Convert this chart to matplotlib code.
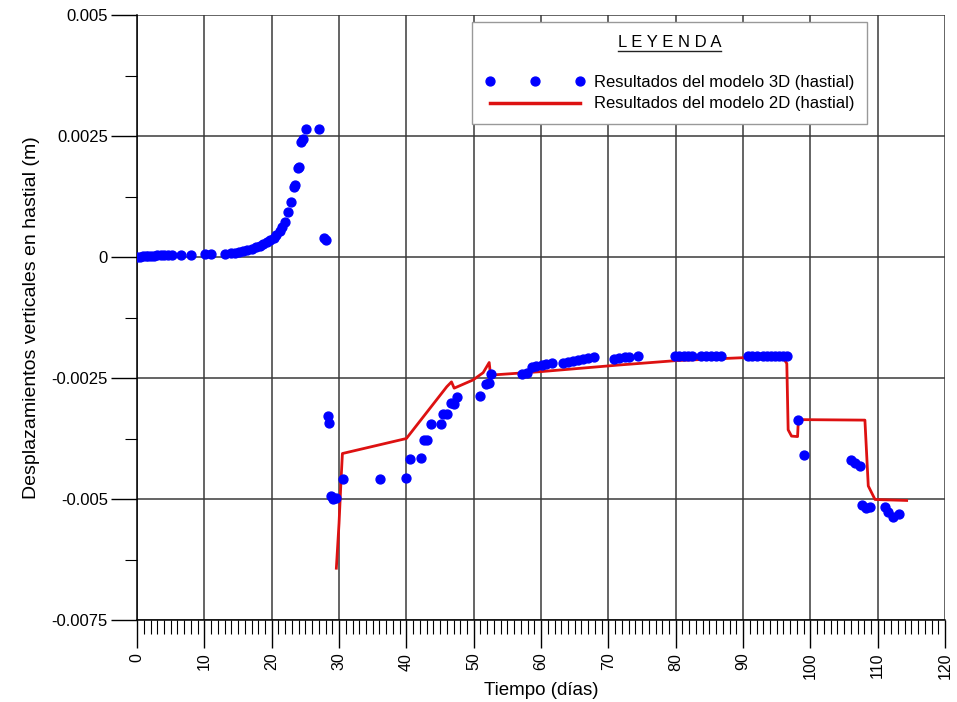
#!/usr/bin/python
# Desplazamientos verticales en hastial: modelo 3D (puntos) vs modelo 2D (linea)

import numpy as np
import matplotlib
matplotlib.use("Agg")
import matplotlib.pyplot as plt
from matplotlib.lines import Line2D
from matplotlib.ticker import MultipleLocator

plt.rcParams['font.family'] = ['Liberation Sans', 'DejaVu Sans']

############################### Datos ###############################
# modelo 3D (hastial) - tiempo en dias
t_3d = [0.0, 0.5, 0.9, 1.3, 1.7, 2.1, 2.5, 3.0, 3.5, 4.0, 4.6, 5.2, 6.5, 8.0, 10.1, 11.0,
        13.1, 14.0, 14.6, 15.2, 15.8, 16.4, 17.0, 17.6, 18.2, 18.7, 19.3, 19.7, 20.3, 20.7,
        21.2, 21.5, 22.0, 22.4, 22.9, 23.3, 23.5, 23.9, 24.1, 24.4, 24.6, 25.1, 27.0,
        27.7, 28.0, 28.3, 28.5, 28.8, 29.1, 29.6, 30.6, 36.1,
        40.0, 40.6, 42.1, 42.6, 43.1, 43.6, 45.1, 45.5, 46.1, 46.6, 47.1, 47.5,
        51.0, 51.8, 52.3, 52.5, 57.1, 57.9, 58.6, 59.3, 60.1, 60.8, 61.6,
        63.3, 64.0, 64.8, 65.5, 66.3, 67.0, 67.8, 70.9, 71.6, 72.4, 73.1, 74.4,
        79.9, 80.5, 81.2, 81.8, 82.4, 83.8, 84.5, 85.3, 86.0, 86.8,
        90.8, 91.4, 92.0, 93.0, 93.6, 94.2, 94.8, 95.4, 96.0, 96.5,
        98.1, 99.1, 106.1, 106.6, 107.3, 107.6, 108.3, 108.8,
        111.1, 111.6, 112.2, 113.2]
# desplazamiento (m)
d_3d = [0.0, 0.00001, 0.00002, 0.00002, 0.00003, 0.00003, 0.00003, 0.00004, 0.00004, 0.00004, 0.00005, 0.00005, 0.00005, 0.00005, 0.00006, 0.00006,
        0.00007, 0.00008, 0.00009, 0.00011, 0.00013, 0.00015, 0.00017, 0.00020, 0.00023, 0.00026, 0.00030, 0.00035, 0.00040, 0.00046,
        0.00054, 0.00062, 0.00073, 0.00092, 0.00114, 0.00145, 0.00148, 0.00183, 0.00186, 0.00238, 0.00243, 0.00264, 0.00264,
        0.00040, 0.00035, -0.00328, -0.00342, -0.00493, -0.00499, -0.00497, -0.00459, -0.00458,
        -0.00456, -0.00417, -0.00416, -0.00378, -0.00378, -0.00346, -0.00346, -0.00325, -0.00324, -0.00302, -0.00304, -0.00290,
        -0.00287, -0.00262, -0.00260, -0.00242, -0.00242, -0.00239, -0.00228, -0.00226, -0.00224, -0.00222, -0.00220,
        -0.00218, -0.00216, -0.00214, -0.00212, -0.00210, -0.00208, -0.00207, -0.00210, -0.00208, -0.00207, -0.00206, -0.00205,
        -0.00205, -0.00205, -0.00205, -0.00205, -0.00205, -0.00205, -0.00205, -0.00205, -0.00205, -0.00205,
        -0.00205, -0.00205, -0.00205, -0.00205, -0.00205, -0.00205, -0.00205, -0.00205, -0.00205, -0.00205,
        -0.00337, -0.00409, -0.00419, -0.00426, -0.00432, -0.00512, -0.00519, -0.00517,
        -0.00517, -0.00526, -0.00537, -0.00530]

# modelo 2D (hastial)
t_2d = [29.6, 30.0, 30.3, 30.5, 40.0, 46.0, 46.7, 47.1, 49.9, 51.4, 52.3, 52.5, 59.8, 71.7,
        80.1, 90.0, 93.5, 96.0, 96.5, 96.7, 97.2, 98.1, 98.2, 98.7, 108.1, 108.6, 109.6, 114.3]
d_2d = [-0.00643, -0.00550, -0.00460, -0.00406, -0.00375, -0.00268, -0.00258, -0.00271, -0.00254, -0.00239, -0.00218, -0.00244, -0.00237, -0.00223,
        -0.00214, -0.00208, -0.00206, -0.00209, -0.00220, -0.00357, -0.00370, -0.00371, -0.00340, -0.00336, -0.00337, -0.00473, -0.00501, -0.00503]

x_ticks = np.arange(0, 121, 10)
y_ticks = [-0.0075, -0.005, -0.0025, 0, 0.0025, 0.005]
y_ticklabels = ["-0.0075", "-0.005", "-0.0025", "0", "0.0025", "0.005"]

lbl_3d = "Resultados del modelo 3D (hastial)"
lbl_2d = "Resultados del modelo 2D (hastial)"

############################### Figura ###############################
fig = plt.figure(figsize=(9.57, 7.02), dpi=100)
ax = fig.add_axes([0.1432, 0.1168, 0.8443, 0.8618])

ax.plot(t_2d, d_2d, color="#dd1111", lw=2.0, label=lbl_2d, zorder=3)
ax.plot(t_3d, d_3d, ls="none", marker="o", ms=6.4, color="#0000ff", mec="#0000ff",
        label=lbl_3d, zorder=4)

ax.set_xlim(0, 120)
ax.set_ylim(-0.0075, 0.005)

ax.set_xticks(x_ticks)
ax.xaxis.set_minor_locator(MultipleLocator(1))
ax.set_yticks(y_ticks)
ax.set_yticklabels(y_ticklabels)
ax.yaxis.set_minor_locator(MultipleLocator(0.00125))

ax.tick_params(axis="x", which="major", length=20, width=1.0, pad=3.5, labelsize=11.5,
               labelrotation=90)
ax.tick_params(axis="y", which="major", length=19, width=1.0, pad=2, labelsize=12)
ax.tick_params(axis="x", which="minor", length=10, width=0.8)
ax.tick_params(axis="y", which="minor", length=9, width=0.8)

ax.grid(True, which="major", color="#3a3a3a", lw=1.1)
ax.set_axisbelow(True)
for s in ["top", "right"]:
    ax.spines[s].set_visible(False)
for s in ["left", "bottom"]:
    ax.spines[s].set_linewidth(1.1)

ax.set_xlabel("Tiempo (días)", fontsize=13.5, labelpad=2)
ax.set_ylabel("Desplazamientos verticales en hastial (m)", fontsize=14, labelpad=8)

# leyenda
h3 = Line2D([], [], ls="none", marker="o", ms=6.4, color="#0000ff")
h2 = Line2D([], [], color="#dd1111", lw=2.5)
leg = ax.legend([h3, h2], [lbl_3d, lbl_2d], loc="upper left", bbox_to_anchor=(0.415, 0.988),
                numpoints=3, fontsize=12, title="L E Y E N D A", title_fontsize=12,
                handlelength=6.0, handletextpad=0.55, labelspacing=0.4, borderpad=0.75,
                borderaxespad=0, fancybox=False, framealpha=1, edgecolor="#999999")
leg.get_frame().set_linewidth(1.0)
leg._legend_box.sep = 18

# subrayado del titulo de la leyenda
fig.canvas.draw()
bb = leg.get_title().get_window_extent()
inv = fig.transFigure.inverted()
x0, y0 = inv.transform((bb.x0, bb.y0 - 1))
x1, _ = inv.transform((bb.x1, bb.y0 - 1))
fig.add_artist(Line2D([x0, x1], [y0, y0], color="#222222", lw=1.0, transform=fig.transFigure))

fig.savefig("out.png", dpi=100)
